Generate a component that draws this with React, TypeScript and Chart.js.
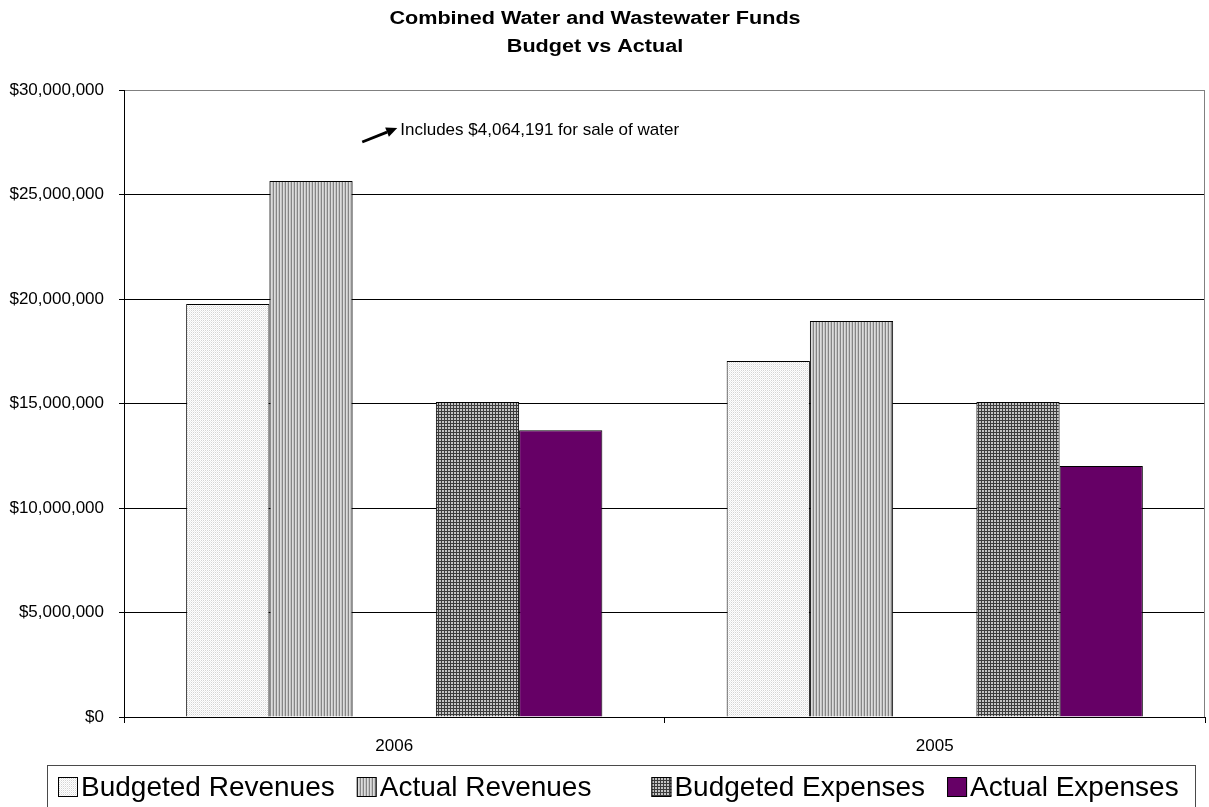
import React, { useEffect, useRef } from 'react';
import { Chart, registerables } from 'chart.js';

Chart.register(...registerables);

// ---------- data ----------
const CATEGORIES = ['2006', '2005'];
const SERIES_LABELS = ['Budgeted Revenues', 'Actual Revenues', '', 'Budgeted Expenses', 'Actual Expenses'];
const BUDGETED_REVENUES = [19760000, 17030000];
const ACTUAL_REVENUES = [25650000, 18950000];
const SPACER_SERIES: (number | null)[] = [null, null];
const BUDGETED_EXPENSES = [15070000, 15070000];
const ACTUAL_EXPENSES = [13720000, 12010000];
const Y_MIN = 0;
const Y_MAX = 30000000;
const Y_STEP = 5000000;
const TITLE_LINES = ['Combined Water and Wastewater Funds', 'Budget vs Actual'];
const NOTE_TEXT = 'Includes $4,064,191 for sale of water';
const NOTE_TEXT_VALUE = 28090000;
const NOTE_ARROW_FROM_VALUE = 27510000;
const NOTE_ARROW_TO_VALUE = 28180000;

const FONT = '"Liberation Sans", Arial, Helvetica, sans-serif';

function makePattern(rows: string[][]): CanvasPattern | string {
  const h = rows.length;
  const w = rows[0].length;
  const c = document.createElement('canvas');
  c.width = w;
  c.height = h;
  const g = c.getContext('2d');
  if (!g) return '#ccc';
  for (let y = 0; y < h; y++) {
    for (let x = 0; x < w; x++) {
      g.fillStyle = rows[y][x];
      g.fillRect(x, y, 1, 1);
    }
  }
  const p = g.createPattern(c, 'repeat');
  return p || '#ccc';
}

export default function App() {
  const ref = useRef<HTMLCanvasElement | null>(null);

  useEffect(() => {
    document.body.style.margin = '0';
    const canvas = ref.current;
    if (!canvas) return;

    const dotted = makePattern([
      ['#ffffff', '#d4d4d4'],
      ['#ececec', '#ffffff'],
    ]);
    const stripes = makePattern([['#858585', '#dcdcdc', '#c4c4c4']]);
    const grid = makePattern([
      ['#3c3c3c', '#3c3c3c', '#3c3c3c'],
      ['#3c3c3c', '#c4c4c4', '#c4c4c4'],
      ['#3c3c3c', '#c4c4c4', '#c4c4c4'],
    ]);
    const purple = '#660066';
    const fills = [dotted, stripes, 'rgba(0,0,0,0)', grid, purple];
    const seriesData = [BUDGETED_REVENUES, ACTUAL_REVENUES, SPACER_SERIES, BUDGETED_EXPENSES, ACTUAL_EXPENSES];

    const decor = {
      id: 'decor',
      beforeDraw(chart: any) {
        const { ctx, width, height } = chart;
        ctx.save();
        ctx.fillStyle = '#ffffff';
        ctx.fillRect(0, 0, width, height);
        ctx.restore();
      },
      afterDraw(chart: any) {
        const { ctx, chartArea } = chart;
        const xS = chart.scales.x;
        const yS = chart.scales.y;
        ctx.save();

        // right plot border
        ctx.strokeStyle = '#808080';
        ctx.lineWidth = 1;
        ctx.beginPath();
        ctx.moveTo(Math.round(chartArea.right) - 0.5, chartArea.top);
        ctx.lineTo(Math.round(chartArea.right) - 0.5, chartArea.bottom);
        ctx.stroke();

        // title
        ctx.fillStyle = '#000';
        ctx.font = `bold 18px ${FONT}`;
        ctx.textAlign = 'center';
        ctx.textBaseline = 'alphabetic';
        const titleCx = 595;
        const baselines = [24, 52];
        TITLE_LINES.forEach((line, i) => {
          ctx.save();
          ctx.translate(titleCx, baselines[i]);
          ctx.scale(1.2, 1);
          ctx.fillText(line, 0, 0);
          ctx.restore();
        });

        // annotation
        const cx0 = xS.getPixelForValue(0);
        const ax0 = cx0 - 32;
        const ay0 = yS.getPixelForValue(NOTE_ARROW_FROM_VALUE);
        const ax1 = cx0 + 3;
        const ay1 = yS.getPixelForValue(NOTE_ARROW_TO_VALUE);
        const ang = Math.atan2(ay1 - ay0, ax1 - ax0);
        const headLen = 11;
        const headW = 5;
        const bx = ax1 - headLen * Math.cos(ang);
        const by = ay1 - headLen * Math.sin(ang);
        ctx.strokeStyle = '#000';
        ctx.lineWidth = 2.8;
        ctx.beginPath();
        ctx.moveTo(ax0, ay0);
        ctx.lineTo(bx, by);
        ctx.stroke();
        ctx.fillStyle = '#000';
        ctx.beginPath();
        ctx.moveTo(ax1, ay1);
        ctx.lineTo(bx + headW * Math.sin(ang), by - headW * Math.cos(ang));
        ctx.lineTo(bx - headW * Math.sin(ang), by + headW * Math.cos(ang));
        ctx.closePath();
        ctx.fill();
        ctx.font = `17px ${FONT}`;
        ctx.textAlign = 'left';
        ctx.textBaseline = 'middle';
        ctx.fillText(NOTE_TEXT, cx0 + 6, yS.getPixelForValue(NOTE_TEXT_VALUE));

        // legend
        const legLeft = 47;
        const legTop = 765;
        const legRight = 1195;
        ctx.strokeStyle = '#4a4a4a';
        ctx.lineWidth = 1;
        ctx.strokeRect(legLeft + 0.5, legTop + 0.5, legRight - legLeft, 60);
        ctx.font = `28px ${FONT}`;
        ctx.textAlign = 'left';
        ctx.textBaseline = 'alphabetic';
        let x = legLeft + 11;
        const boxTop = 777;
        const box = 20;
        chart.data.datasets.forEach((ds: any, i: number) => {
          if (!ds.label) {
            x += 38;
            return;
          }
          ctx.fillStyle = fills[i];
          ctx.fillRect(x, boxTop, box, box);
          ctx.strokeStyle = '#000';
          ctx.lineWidth = 1;
          ctx.strokeRect(x + 0.5, boxTop + 0.5, box - 1, box - 1);
          ctx.fillStyle = '#000';
          ctx.fillText(ds.label, x + box + 3, 796);
          x += box + 3 + ctx.measureText(ds.label).width + 22;
        });

        ctx.restore();
      },
    };

    const chart = new Chart(canvas, {
      type: 'bar',
      data: {
        labels: CATEGORIES,
        datasets: SERIES_LABELS.map((label, i) => ({
          label,
          data: seriesData[i] as any,
          backgroundColor: fills[i] as any,
          borderColor: '#000',
          borderWidth: label ? 1 : 0,
          categoryPercentage: 0.77,
          barPercentage: 1,
        })),
      },
      options: {
        responsive: false,
        animation: false,
        events: [],
        layout: { padding: { left: 0, right: 4, top: 90, bottom: 0 } },
        plugins: {
          legend: { display: false },
          title: { display: false },
          tooltip: { enabled: false },
        },
        scales: {
          x: {
            afterFit: (s: any) => {
              s.height = 90;
            },
            grid: {
              offset: true,
              drawOnChartArea: false,
              drawTicks: true,
              tickLength: 6,
              color: '#000',
            },
            border: { color: '#000', width: 1 },
            ticks: {
              color: '#000',
              padding: 13,
              font: { family: FONT, size: 17 },
            },
          },
          y: {
            min: Y_MIN,
            max: Y_MAX,
            afterFit: (s: any) => {
              s.width = 124;
            },
            grid: {
              color: (c: any) => (c.tick && c.tick.value === Y_MAX ? '#808080' : '#000'),
              tickColor: '#000',
              tickLength: 5,
              drawTicks: true,
            },
            border: { color: '#000', width: 1 },
            ticks: {
              stepSize: Y_STEP,
              color: '#000',
              padding: 15,
              font: { family: FONT, size: 17 },
              callback: (v: any) => '$' + Number(v).toLocaleString('en-US'),
            },
          },
        },
      },
      plugins: [decor],
    });

    return () => chart.destroy();
  }, []);

  return (
    <div style={{ width: 1209, height: 807, overflow: 'hidden' }}>
      <canvas ref={ref} width={1209} height={807} style={{ display: 'block' }} />
    </div>
  );
}
